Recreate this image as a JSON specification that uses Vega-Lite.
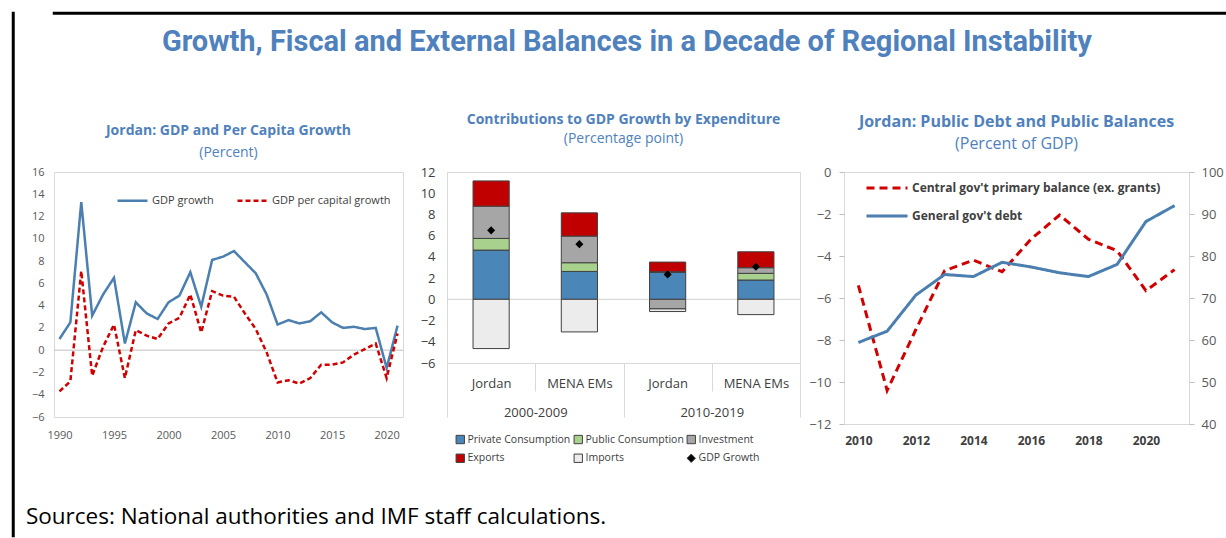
{
  "$schema": "https://vega.github.io/schema/vega-lite/v6.json",
  "padding": {"left": 11, "top": 11, "right": 0, "bottom": 0},
  "background": "white",
  "config": {
    "font": "Open Sans",
    "view": {"stroke": "#d9d9d9", "strokeWidth": 1},
    "axis": {"grid": false, "domain": false, "labelOverlap": false}
  },
  "datasets": {
    "growth": [
      {"year": 1990, "gdp": 1.0, "pc": -3.7},
      {"year": 1991, "gdp": 2.5, "pc": -2.8},
      {"year": 1992, "gdp": 13.3, "pc": 7.1},
      {"year": 1993, "gdp": 3.1, "pc": -2.3},
      {"year": 1994, "gdp": 5.0, "pc": 0.3},
      {"year": 1995, "gdp": 6.5, "pc": 2.3},
      {"year": 1996, "gdp": 0.6, "pc": -2.5},
      {"year": 1997, "gdp": 4.3, "pc": 1.8},
      {"year": 1998, "gdp": 3.3, "pc": 1.3},
      {"year": 1999, "gdp": 2.8, "pc": 1.0},
      {"year": 2000, "gdp": 4.3, "pc": 2.4},
      {"year": 2001, "gdp": 4.9, "pc": 2.9},
      {"year": 2002, "gdp": 7.0, "pc": 5.0},
      {"year": 2003, "gdp": 3.9, "pc": 1.6},
      {"year": 2004, "gdp": 8.1, "pc": 5.3},
      {"year": 2005, "gdp": 8.4, "pc": 4.9},
      {"year": 2006, "gdp": 8.9, "pc": 4.8},
      {"year": 2007, "gdp": 7.9, "pc": 3.3},
      {"year": 2008, "gdp": 6.9, "pc": 1.9},
      {"year": 2009, "gdp": 5.0, "pc": -0.2},
      {"year": 2010, "gdp": 2.3, "pc": -2.9},
      {"year": 2011, "gdp": 2.7, "pc": -2.7},
      {"year": 2012, "gdp": 2.4, "pc": -3.0},
      {"year": 2013, "gdp": 2.6, "pc": -2.5},
      {"year": 2014, "gdp": 3.4, "pc": -1.3},
      {"year": 2015, "gdp": 2.5, "pc": -1.3},
      {"year": 2016, "gdp": 2.0, "pc": -1.1},
      {"year": 2017, "gdp": 2.1, "pc": -0.4},
      {"year": 2018, "gdp": 1.9, "pc": 0.1},
      {"year": 2019, "gdp": 2.0, "pc": 0.6},
      {"year": 2020, "gdp": -1.6, "pc": -2.5},
      {"year": 2021, "gdp": 2.2, "pc": 1.5}
    ],
    "bars": [
      {"grp": "Jordan|2000-2009", "period": "2000-2009", "component": "Private Consumption", "value": 4.64},
      {"grp": "Jordan|2000-2009", "period": "2000-2009", "component": "Public Consumption", "value": 1.10},
      {"grp": "Jordan|2000-2009", "period": "2000-2009", "component": "Investment", "value": 3.04},
      {"grp": "Jordan|2000-2009", "period": "2000-2009", "component": "Exports", "value": 2.38},
      {"grp": "Jordan|2000-2009", "period": "2000-2009", "component": "Imports", "value": -4.64},
      {"grp": "MENA EMs|2000-2009", "period": "2000-2009", "component": "Private Consumption", "value": 2.63},
      {"grp": "MENA EMs|2000-2009", "period": "2000-2009", "component": "Public Consumption", "value": 0.82},
      {"grp": "MENA EMs|2000-2009", "period": "2000-2009", "component": "Investment", "value": 2.51},
      {"grp": "MENA EMs|2000-2009", "period": "2000-2009", "component": "Exports", "value": 2.19},
      {"grp": "MENA EMs|2000-2009", "period": "2000-2009", "component": "Imports", "value": -3.07},
      {"grp": "Jordan|2010-2019", "period": "2010-2019", "component": "Private Consumption", "value": 2.54},
      {"grp": "Jordan|2010-2019", "period": "2010-2019", "component": "Public Consumption", "value": 0.06},
      {"grp": "Jordan|2010-2019", "period": "2010-2019", "component": "Investment", "value": -0.90},
      {"grp": "Jordan|2010-2019", "period": "2010-2019", "component": "Exports", "value": 0.91},
      {"grp": "Jordan|2010-2019", "period": "2010-2019", "component": "Imports", "value": -0.25},
      {"grp": "MENA EMs|2010-2019", "period": "2010-2019", "component": "Private Consumption", "value": 1.82},
      {"grp": "MENA EMs|2010-2019", "period": "2010-2019", "component": "Public Consumption", "value": 0.63},
      {"grp": "MENA EMs|2010-2019", "period": "2010-2019", "component": "Investment", "value": 0.53},
      {"grp": "MENA EMs|2010-2019", "period": "2010-2019", "component": "Exports", "value": 1.50},
      {"grp": "MENA EMs|2010-2019", "period": "2010-2019", "component": "Imports", "value": -1.44}
    ],
    "gdp": [
      {"grp": "Jordan|2000-2009", "component": "GDP Growth", "value": 6.5},
      {"grp": "MENA EMs|2000-2009", "component": "GDP Growth", "value": 5.2},
      {"grp": "Jordan|2010-2019", "component": "GDP Growth", "value": 2.35},
      {"grp": "MENA EMs|2010-2019", "component": "GDP Growth", "value": 3.07}
    ],
    "fiscal": [
      {"year": 2010, "bal": -5.4, "debt": 59.4},
      {"year": 2011, "bal": -10.4, "debt": 62.1},
      {"year": 2012, "bal": -7.5, "debt": 70.7},
      {"year": 2013, "bal": -4.7, "debt": 75.6},
      {"year": 2014, "bal": -4.2, "debt": 75.1},
      {"year": 2015, "bal": -4.75, "debt": 78.5},
      {"year": 2016, "bal": -3.2, "debt": 77.4},
      {"year": 2017, "bal": -2.05, "debt": 76.0},
      {"year": 2018, "bal": -3.2, "debt": 75.1},
      {"year": 2019, "bal": -3.75, "debt": 78.0},
      {"year": 2020, "bal": -5.65, "debt": 88.2},
      {"year": 2021, "bal": -4.65, "debt": 92.0}
    ]
  },
  "spacing": 0,
  "hconcat": [
    {
      "width": 0.5,
      "height": 523,
      "data": {"values": []},
      "mark": {"type": "point"},
      "encoding": {},
      "view": {"stroke": "#000000", "strokeWidth": 2.5}
    },
    {
      "spacing": 0,
      "vconcat": [
        {
          "width": 1209,
          "height": 0.5,
          "data": {"values": []},
          "mark": {"type": "point"},
          "encoding": {},
          "view": {"stroke": "#000000", "strokeWidth": 2.5}
        },
        {
          "title": {
            "text": [" ", "Growth, Fiscal and External Balances in a Decade of Regional Instability"],
            "lineHeight": 12,
            "font": "Roboto",
            "fontSize": 29,
            "fontWeight": "bold",
            "color": "#4f81bd",
            "anchor": "middle",
            "offset": 56,
            "dx": 7
          },
          "vconcat": [
            {
              "title": {
                "text": "Sources: National authorities and IMF staff calculations.",
                "orient": "bottom",
                "anchor": "start",
                "fontSize": 22.5,
                "fontWeight": "normal",
                "color": "#000000",
                "offset": 40,
                "dx": 10
              },
              "bounds": "flush",
              "spacing": 44,
              "resolve": {
                "scale": {"color": "independent", "strokeDash": "independent", "fill": "independent", "shape": "independent"},
                "legend": {"color": "independent", "strokeDash": "independent", "fill": "independent", "shape": "independent"}
              },
              "hconcat": [
                {
                  "width": 349,
                  "height": 245,
                  "title": {
                    "text": "Jordan: GDP and Per Capita Growth",
                    "subtitle": "(Percent)",
                    "fontSize": 14,
                    "fontWeight": "bold",
                    "color": "#4f81bd",
                    "subtitleFontSize": 14,
                    "subtitleColor": "#4f81bd",
                    "subtitlePadding": 8,
                    "offset": 6,
                    "anchor": "middle"
                  },
                  "layer": [
                    {
                      "data": {"values": [{"z": 0}]},
                      "mark": {"type": "rule", "color": "#bfbfbf", "strokeWidth": 1},
                      "encoding": {
                        "y": {
                          "field": "z", "type": "quantitative", "scale": {"domain": [-6, 16], "nice": false},
                          "axis": {"title": " ", "titleFontSize": 11, "titlePadding": 4, "values": [-6, -4, -2, 0, 2, 4, 6, 8, 10, 12, 14, 16], "ticks": false, "labelFontSize": 11, "labelColor": "#595959", "labelPadding": 10}
                        }
                      }
                    },
                    {
                      "data": {"name": "growth"},
                      "transform": [{"fold": ["gdp", "pc"], "as": ["key", "value"]}],
                      "mark": {"type": "line", "strokeWidth": 2.5},
                      "encoding": {
                        "x": {
                          "field": "year", "type": "quantitative",
                          "scale": {"domain": [1989.5, 2021.5], "nice": false, "zero": false},
                          "axis": {"title": null, "values": [1990, 1995, 2000, 2005, 2010, 2015, 2020], "format": "d", "ticks": false, "labelFontSize": 11, "labelColor": "#595959", "labelPadding": 12}
                        },
                        "y": {
                          "field": "value", "type": "quantitative",
                          "scale": {"domain": [-6, 16], "nice": false},
                          "axis": {"title": " ", "titleFontSize": 11, "titlePadding": 4, "values": [-6, -4, -2, 0, 2, 4, 6, 8, 10, 12, 14, 16], "ticks": false, "labelFontSize": 11, "labelColor": "#595959", "labelPadding": 10}
                        },
                        "color": {
                          "field": "key", "type": "nominal",
                          "scale": {"domain": ["gdp", "pc"], "range": ["#4a7fb0", "#d00000"]},
                          "legend": {
                            "title": null, "orient": "none", "legendX": 62, "legendY": 12, "direction": "horizontal",
                            "labelExpr": "datum.label == 'gdp' ? 'GDP growth' : 'GDP per capital growth'",
                            "symbolSize": 900, "symbolStrokeWidth": 2.5, "labelFontSize": 11, "labelColor": "#404040",
                            "labelOffset": 3, "columnPadding": 18
                          }
                        },
                        "strokeDash": {
                          "field": "key", "type": "nominal",
                          "scale": {"domain": ["gdp", "pc"], "range": [[1, 0], [5, 3]]}
                        }
                      }
                    }
                  ]
                },
                {
                  "width": 353,
                  "height": 191,
                  "title": {
                    "text": "Contributions to GDP Growth by Expenditure",
                    "subtitle": "(Percentage point)",
                    "fontSize": 14,
                    "fontWeight": "bold",
                    "color": "#4f81bd",
                    "subtitleFontSize": 14,
                    "subtitleColor": "#4f81bd",
                    "subtitlePadding": 5,
                    "offset": 20,
                    "anchor": "middle"
                  },
                  "layer": [
                    {
                      "data": {"values": [{"z": 0}]},
                      "mark": {"type": "rule", "color": "#d0d0d0", "strokeWidth": 1},
                      "encoding": {
                        "y": {
                          "field": "z", "type": "quantitative", "scale": {"domain": [-6, 12], "nice": false},
                          "axis": {"title": null, "values": [-6, -4, -2, 0, 2, 4, 6, 8, 10, 12], "ticks": false, "labelFontSize": 13, "labelColor": "#404040", "labelPadding": 12}
                        }
                      }
                    },
                    {
                      "data": {"name": "bars"},
                      "transform": [{"calculate": "indexof(['Private Consumption', 'Public Consumption', 'Investment', 'Exports', 'Imports'], datum.component)", "as": "stackOrder"}],
                      "mark": {"type": "bar", "width": {"band": 0.41}, "stroke": "#404040", "strokeWidth": 1},
                      "encoding": {
                        "x": {
                          "field": "grp", "type": "nominal",
                          "sort": ["Jordan|2000-2009", "MENA EMs|2000-2009", "Jordan|2010-2019", "MENA EMs|2010-2019"],
                          "scale": {"type": "band", "paddingInner": 0, "paddingOuter": 0},
                          "axis": {
                            "title": null, "orient": "bottom", "labelExpr": "split(datum.label, '|')[0]", "labelAngle": 0,
                            "tickBand": "extent", "ticks": true, "tickSize": 28, "tickColor": "#d9d9d9",
                            "labelPadding": -14, "labelFontSize": 13, "labelColor": "#404040"
                          }
                        },
                        "y": {
                          "field": "value", "type": "quantitative", "stack": "zero",
                          "scale": {"domain": [-6, 12], "nice": false},
                          "axis": {"title": null, "values": [-6, -4, -2, 0, 2, 4, 6, 8, 10, 12], "ticks": false, "labelFontSize": 13, "labelColor": "#404040", "labelPadding": 12}
                        },
                        "order": {"field": "stackOrder", "type": "quantitative", "sort": "ascending"},
                        "fill": {
                          "field": "component", "type": "nominal",
                          "scale": {
                            "domain": ["Private Consumption", "Public Consumption", "Investment", "Exports", "Imports", "GDP Growth"],
                            "range": ["#4a86b8", "#a9d18e", "#a6a6a6", "#c00000", "#ececec", "#000000"]
                          },
                          "legend": {
                            "title": null, "orient": "none", "legendX": 8, "legendY": 262, "columns": 3, "direction": "horizontal",
                            "symbolType": "square", "symbolSize": 70, "symbolStrokeColor": "#404040", "symbolStrokeWidth": 1,
                            "labelFontSize": 10.5, "labelColor": "#404040", "labelOffset": 2, "columnPadding": 1, "rowPadding": 6
                          }
                        }
                      }
                    },
                    {
                      "data": {"name": "gdp"},
                      "mark": {"type": "point", "filled": true, "size": 65, "opacity": 1},
                      "encoding": {
                        "x": {
                          "field": "grp", "type": "nominal",
                          "sort": ["Jordan|2000-2009", "MENA EMs|2000-2009", "Jordan|2010-2019", "MENA EMs|2010-2019"],
                          "scale": {"type": "band", "paddingInner": 0, "paddingOuter": 0},
                          "axis": null
                        },
                        "y": {
                          "field": "value", "type": "quantitative", "stack": null,
                          "axis": {"title": null, "values": [-6, -4, -2, 0, 2, 4, 6, 8, 10, 12], "ticks": false, "labelFontSize": 13, "labelColor": "#404040", "labelPadding": 12}
                        },
                        "fill": {"field": "component", "type": "nominal"},
                        "shape": {
                          "field": "component", "type": "nominal",
                          "scale": {
                            "domain": ["Private Consumption", "Public Consumption", "Investment", "Exports", "Imports", "GDP Growth"],
                            "range": ["square", "square", "square", "square", "square", "diamond"]
                          }
                        }
                      }
                    },
                    {
                      "data": {"name": "bars"},
                      "mark": {"type": "point", "opacity": 0},
                      "encoding": {
                        "x": {
                          "field": "period", "type": "nominal",
                          "scale": {"type": "band", "paddingInner": 0, "paddingOuter": 0},
                          "axis": {
                            "title": null, "orient": "bottom", "labelAngle": 0,
                            "tickBand": "extent", "ticks": true, "tickSize": 54, "tickColor": "#d9d9d9",
                            "labelPadding": -11, "labelFontSize": 13, "labelColor": "#404040"
                          }
                        },
                        "y": {
                          "datum": 0, "type": "quantitative",
                          "axis": {"title": null, "values": [-6, -4, -2, 0, 2, 4, 6, 8, 10, 12], "ticks": false, "labelFontSize": 13, "labelColor": "#404040", "labelPadding": 12}
                        }
                      }
                    }
                  ],
                  "resolve": {"scale": {"x": "independent"}, "axis": {"x": "independent"}}
                },
                {
                  "width": 345,
                  "height": 252,
                  "title": {
                    "text": "Jordan: Public Debt and Public Balances",
                    "subtitle": "(Percent of GDP)",
                    "fontSize": 16,
                    "fontWeight": "bold",
                    "color": "#4f81bd",
                    "subtitleFontSize": 16,
                    "subtitleColor": "#4f81bd",
                    "subtitlePadding": 6,
                    "offset": 14,
                    "anchor": "middle"
                  },
                  "layer": [
                    {
                      "data": {"name": "fiscal"},
                      "transform": [{"fold": ["bal"], "as": ["key", "value"]}],
                      "mark": {"type": "line", "strokeWidth": 3},
                      "encoding": {
                        "x": {
                          "field": "year", "type": "quantitative",
                          "scale": {"domain": [2009.5, 2021.5], "nice": false, "zero": false},
                          "axis": {"title": null, "values": [2010, 2012, 2014, 2016, 2018, 2020], "format": "d", "ticks": false, "labelFontSize": 12, "labelFontWeight": "bold", "labelColor": "#404040", "labelPadding": 11}
                        },
                        "y": {
                          "field": "value", "type": "quantitative",
                          "scale": {"domain": [-12, 0], "nice": false},
                          "axis": {"title": null, "orient": "left", "values": [-12, -10, -8, -6, -4, -2, 0], "ticks": true, "tickSize": 5, "tickColor": "#bfbfbf", "labelFontSize": 13, "labelColor": "#595959", "labelPadding": 8}
                        },
                        "color": {
                          "field": "key", "type": "nominal",
                          "scale": {"domain": ["bal", "debt"], "range": ["#d00000", "#4a7fb0"]},
                          "legend": {
                            "title": null, "orient": "none", "legendX": 21, "legendY": -6, "direction": "vertical",
                            "labelExpr": "datum.label == 'bal' ? \"Central gov't primary balance (ex. grants)\" : \"General gov't debt\"",
                            "symbolSize": 1681, "symbolStrokeWidth": 3, "labelFontSize": 12, "labelFontWeight": "bold", "labelColor": "#404040",
                            "labelOffset": 3, "rowPadding": -10, "labelLimit": 400
                          }
                        },
                        "strokeDash": {
                          "field": "key", "type": "nominal",
                          "scale": {"domain": ["bal", "debt"], "range": [[8, 5], [1, 0]]}
                        }
                      }
                    },
                    {
                      "data": {"name": "fiscal"},
                      "transform": [{"fold": ["debt"], "as": ["key", "value"]}],
                      "mark": {"type": "line", "strokeWidth": 3},
                      "encoding": {
                        "x": {"field": "year", "type": "quantitative"},
                        "y": {
                          "field": "value", "type": "quantitative",
                          "scale": {"domain": [40, 100], "nice": false},
                          "axis": {"title": null, "orient": "right", "values": [40, 50, 60, 70, 80, 90, 100], "ticks": true, "tickSize": 5, "tickColor": "#bfbfbf", "labelFontSize": 13, "labelColor": "#595959", "labelPadding": 7}
                        },
                        "color": {"field": "key", "type": "nominal"},
                        "strokeDash": {"field": "key", "type": "nominal"}
                      }
                    }
                  ],
                  "resolve": {"scale": {"y": "independent"}}
                }
              ]
            }
          ]
        }
      ]
    }
  ]
}
